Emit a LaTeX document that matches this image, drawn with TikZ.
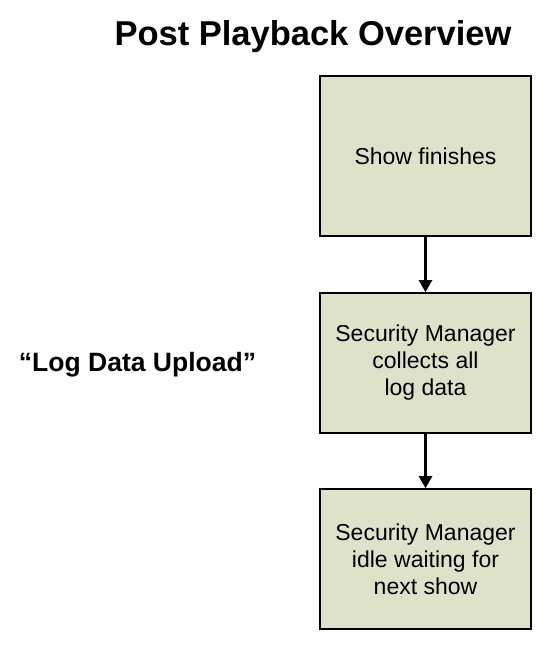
\documentclass[tikz,border=0pt]{standalone}
\usepackage{fontspec}
\setmainfont{Liberation Sans}
\usetikzlibrary{arrows.meta}
\definecolor{boxfill}{HTML}{DEE2CB}
\begin{document}
\begin{tikzpicture}[x=1pt,y=1pt,
  stepbox/.style={draw=black, line width=1.6pt, fill=boxfill, minimum width=211pt, align=center, inner sep=0pt, font=\fontsize{23}{27}\selectfont},
  flow/.style={line width=2.2pt, -{Triangle[width=13pt,length=12pt]}}]
\useasboundingbox (0,0) rectangle (550,-645);
\node[font=\fontsize{34.5}{40}\bfseries\selectfont] (title) at (313,-37) {Post Playback Overview};
\node[font=\fontsize{26.5}{30}\bfseries\selectfont] (label) at (137.5,-365) {“Log Data Upload”};
\node[stepbox, minimum height=160pt] (s1) at (425.5,-156) {Show finishes};
\node[stepbox, minimum height=140pt] (s2) at (425.5,-363) {Security Manager\\collects all\\log data};
\node[stepbox, minimum height=140pt] (s3) at (425.5,-559) {Security Manager\\idle waiting for\\next show};
\draw[flow] (s1) -- (s2);
\draw[flow] (s2) -- (s3);
\end{tikzpicture}
\end{document}
